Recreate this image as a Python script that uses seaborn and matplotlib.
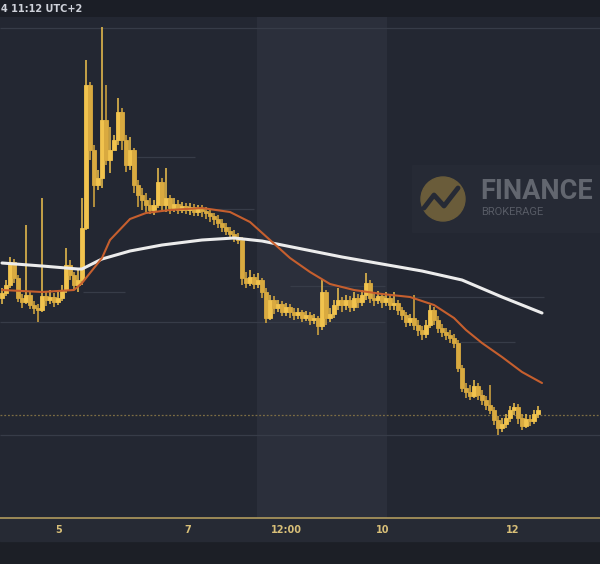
import numpy as np
import pandas as pd
import matplotlib
matplotlib.use("Agg")
import matplotlib.pyplot as plt
import seaborn as sns
from matplotlib.patches import Rectangle, Circle
from matplotlib.lines import Line2D
from matplotlib.transforms import IdentityTransform

# candle data (price units, chart has no visible price scale)
closes = [227, 235, 258, 242, 222, 218, 225, 215, 212, 210,
          224, 220, 223, 218, 222, 230, 255, 245, 235, 240,
          292, 435, 370, 335, 342, 400, 360, 370, 380, 408,
          380, 355, 370, 335, 325, 320, 315, 310, 315, 338,
          315, 322, 312, 316, 310, 314, 310, 313, 308, 311,
          309, 307, 304, 301, 297, 293, 289, 286, 283, 280,
          242, 237, 243, 236, 240, 228, 202, 220, 212, 216,
          208, 213, 208, 205, 208, 202, 205, 200, 202, 194,
          228, 202, 206, 215, 220, 215, 220, 213, 222, 218,
          225, 237, 222, 220, 224, 218, 222, 215, 217, 210,
          205, 198, 202, 195, 190, 186, 195, 210, 200, 192,
          188, 185, 182, 177, 152, 132, 128, 124, 134, 125,
          120, 115, 110, 100, 92, 96, 102, 110, 113, 102,
          94, 101, 99, 106, 110]
highs = [232, 240, 263, 261, 245, 226, 295, 228, 219, 216,
         322, 228, 230, 227, 228, 235, 272, 260, 248, 250,
         322, 460, 438, 375, 350, 493, 435, 393, 385, 422,
         412, 385, 383, 372, 340, 332, 327, 322, 320, 352,
         342, 352, 325, 322, 320, 318, 317, 317, 316, 315,
         315, 313, 310, 307, 305, 301, 297, 293, 290, 287,
         283, 248, 250, 246, 247, 242, 232, 225, 224, 220,
         219, 217, 216, 212, 212, 210, 209, 208, 206, 204,
         240, 230, 212, 220, 232, 223, 225, 224, 228, 226,
         230, 247, 240, 227, 229, 227, 228, 225, 228, 220,
         213, 208, 206, 225, 200, 194, 200, 215, 213, 204,
         196, 192, 190, 186, 180, 155, 137, 135, 140, 137,
         130, 124, 135, 113, 104, 102, 106, 114, 117, 116,
         106, 106, 105, 110, 114]
lows = [216, 224, 232, 237, 218, 212, 216, 211, 206, 198,
        208, 214, 216, 213, 215, 219, 227, 240, 230, 228,
        235, 290, 360, 313, 330, 332, 355, 347, 370, 375,
        370, 348, 350, 327, 313, 310, 308, 306, 305, 312,
        310, 308, 306, 308, 306, 307, 306, 305, 304, 304,
        303, 301, 298, 295, 292, 288, 285, 282, 278, 276,
        235, 232, 234, 231, 232, 222, 197, 200, 206, 208,
        204, 204, 202, 200, 201, 198, 199, 195, 196, 185,
        190, 195, 198, 202, 210, 208, 210, 208, 209, 212,
        214, 220, 217, 214, 216, 212, 214, 210, 210, 205,
        200, 193, 194, 190, 184, 180, 182, 192, 195, 187,
        183, 180, 177, 172, 148, 128, 122, 120, 122, 120,
        115, 110, 106, 95, 85, 88, 92, 98, 105, 96,
        90, 92, 94, 96, 102]
first_open = 222
opens = [first_open] + closes[:-1]

# moving averages
ma_fast_idx = [0, 10, 18, 20, 25, 27, 32, 36, 42, 50, 57, 62, 67, 72, 77, 82,
               88, 95, 102, 108, 113, 116, 120, 125, 130, 135]
ma_fast = [230, 228, 230, 237, 262, 280, 301, 307, 310, 312, 308, 298, 280, 262,
           248, 236, 230, 226, 223, 215, 202, 190, 177, 163, 148, 137]
ma_slow_idx = [0, 10, 19, 20, 25, 32, 40, 50, 58, 65, 75, 85, 95, 105, 115, 125, 135]
ma_slow = [257, 254, 251, 251, 261, 269, 275, 280, 282, 279, 271, 263, 256, 249,
           240, 223, 207]

# faint price levels
levels = [492, 363, 228, 198, 234, 311, 223, 178, 85]
level_from = [-0.5, 33.75, 20.25, -0.5, 72, 47, 103, 114.5, -0.5]
level_to = [149.5, 48.25, 30.75, 95.75, 95.75, 63, 135.5, 128.25, 149.5]
last_price = 105

tick_pos = [14.25, 46.5, 71, 95.25, 127.75]
tick_labels = ["5", "7", "12:00", "10", "12"]
header_text = "4 11:12 UTC+2"

W, H = 600, 564
BG = "#232732"

sns.set_style("dark", rc={"axes.facecolor": BG, "figure.facecolor": "#1c1f26"})
plt.rcParams["font.family"] = ["DejaVu Sans"]

fig = plt.figure(figsize=(W / 100, H / 100), dpi=100)

# strips around the chart
fig.add_artist(Rectangle((0, 1 - 17 / H), 1, 17 / H, transform=fig.transFigure,
                         color="#1b1e26", zorder=0))
fig.add_artist(Rectangle((0, 1 - 541 / H), 1, 23 / H, transform=fig.transFigure,
                         color="#262a34", zorder=0))

ax = fig.add_axes([0, 46 / H, 1, 501 / H])
ax.set_facecolor(BG)
ax.set_xlim(-0.5, 149.5)
ax.set_ylim(2, 503)

# weekend / session band
ax.axvspan(63.75, 96.25, color="#2b2f3b", zorder=0, lw=0)

for lv, a, b in zip(levels, level_from, level_to):
    ax.hlines(lv, a, b, color="#373c48", lw=0.9, zorder=1)
ax.axhline(last_price, color="#7d6e44", lw=0.9, ls=(0, (1.5, 1.5)), zorder=1)

df = pd.DataFrame({"o": opens, "h": highs, "l": lows, "c": closes})
df["i"] = np.arange(len(df))
up = df["c"] >= df["o"]
colors = np.where(up, "#f1c34e", "#d9aa40")

ax.vlines(df["i"], df["l"], df["h"], colors=colors, lw=1.1, zorder=3)
ax.bar(df["i"], (df["c"] - df["o"]).abs(), bottom=df[["o", "c"]].min(axis=1),
       width=0.8, color=colors, edgecolor=colors, lw=0.6, zorder=4)

fast = pd.DataFrame({"i": ma_fast_idx, "v": ma_fast})
slow = pd.DataFrame({"i": ma_slow_idx, "v": ma_slow})
sns.lineplot(data=slow, x="i", y="v", ax=ax, color="#ececec", lw=2.2, zorder=5)
sns.lineplot(data=fast, x="i", y="v", ax=ax, color="#c65f2e", lw=1.5, zorder=6)

ax.set_xticks(tick_pos)
ax.set_xticklabels(tick_labels, fontsize=7, fontweight="bold", color="#d8bf78")
ax.set_yticks([])
ax.tick_params(axis="x", length=0, pad=5)
ax.set_xlabel("")
ax.set_ylabel("")
ax.grid(False)
for s in ["top", "left", "right"]:
    ax.spines[s].set_visible(False)
ax.spines["bottom"].set_color("#b09a5e")
ax.spines["bottom"].set_linewidth(1.2)

# watermark logo
fig.add_artist(Rectangle((412 / W, 1 - 232 / H), 188 / W, 67 / H,
                         transform=fig.transFigure, color="#262a35", zorder=7))
fig.add_artist(Circle((443, H - 199), 22, transform=IdentityTransform(),
                      color="#6a5c3a", zorder=8))
fig.add_artist(Line2D([424, 434, 444, 458], [H - 208, H - 195, H - 206, H - 188],
                      transform=IdentityTransform(), color="#262a35", lw=3.5, zorder=9))
fig.text(480 / W, 1 - 191 / H, "FINANCE", fontsize=19.5, fontweight="bold",
         family=["Roboto", "DejaVu Sans"], color="#62666f", va="center", ha="left", zorder=10)
fig.text(481 / W, 1 - 212 / H, "BROKERAGE", fontsize=8,
         family=["Roboto", "DejaVu Sans"], color="#575b65", va="center", ha="left", zorder=10)

fig.text(1 / W, 1 - 9 / H, header_text, fontsize=7, fontweight="bold",
         color="#cfd2da", va="center", ha="left")

fig.savefig("out.png", dpi=100, facecolor=fig.get_facecolor())
